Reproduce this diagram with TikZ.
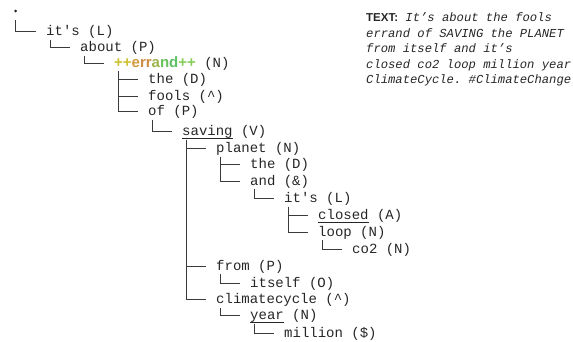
\documentclass[tikz,border=0pt]{standalone}
\usepackage{fontspec}
\setmainfont{Liberation Serif}
\setsansfont{Liberation Sans}
\setmonofont{Liberation Mono}
\usetikzlibrary{calc}

\definecolor{ink}{HTML}{262626}
\definecolor{wire}{HTML}{3A3A3A}
\definecolor{plusA}{HTML}{CDBF30}
\definecolor{letE}{HTML}{D29A3C}
\definecolor{letR}{HTML}{CC8A3E}
\definecolor{letA}{HTML}{9DB24C}
\definecolor{letN}{HTML}{66C15C}
\definecolor{letD}{HTML}{5CC066}
\definecolor{plusB}{HTML}{86CC58}

% underlined word with a rule just below the baseline
\newcommand\ulword[1]{\setbox0\hbox{#1}\rlap{\rule[-3pt]{\wd0}{0.9pt}}\box0\relax}

\begin{document}
\begin{tikzpicture}[x=1pt,y=-1pt,
  tok/.style={anchor=west, inner sep=0pt, text height=10pt, text depth=2pt,
    text=ink, font=\ttfamily\fontsize{14}{16}\selectfont},
  branch/.style={draw=wire, line width=1pt},
  summary/.style={anchor=north west, inner sep=0pt, align=left, text=ink,
    font=\ttfamily\itshape\fontsize{12.2}{15.5}\selectfont}]
\useasboundingbox (0,0) rectangle (573,341);

% root marker
\node[circle, fill=ink, inner sep=0pt, minimum size=3pt] (root) at (15.7,11) {};

% tree tokens: x = 46 + 34*(depth-1)
\node[tok] (n1)  at (46,31.7)   {it's (L)};
\node[tok] (n2)  at (80,47.7)   {about (P)};
\node[tok] (n3)  at (114,63.3)  {{\sffamily\bfseries\fontsize{15}{16}\selectfont
  \textcolor{plusA}{++}\textcolor{letE}{e}\textcolor{letR}{rr}\textcolor{letA}{a}\textcolor{letN}{n}\textcolor{letD}{d}\textcolor{plusB}{++}} (N)};
\node[tok] (n4)  at (148,79.3)  {the (D)};
\node[tok] (n5)  at (148,96)    {fools (\textasciicircum)};
\node[tok] (n6)  at (148,111.7) {of (P)};
\node[tok] (n7)  at (182,131.7) {\ulword{saving} (V)};
\node[tok] (n8)  at (216,148.5) {planet (N)};
\node[tok] (n9)  at (250,164.5) {the (D)};
\node[tok] (n10) at (250,181)   {and (\&)};
\node[tok] (n11) at (284,198.5) {it's (L)};
\node[tok] (n12) at (318,215.5) {\ulword{closed} (A)};
\node[tok] (n13) at (318,232.3) {loop (N)};
\node[tok] (n14) at (352,249.3) {co2 (N)};
\node[tok] (n15) at (216,266)   {from (P)};
\node[tok] (n16) at (250,283)   {itself (O)};
\node[tok] (n17) at (216,299.5) {climatecycle (\textasciicircum)};
\node[tok] (n18) at (250,315.7) {\ulword{year} (N)};
\node[tok] (n19) at (284,333)   {million (\$)};

% connectors
\draw[branch] ([yshift=-9pt]root.center) |- ([xshift=-10pt]n1.west);
\foreach \p/\c in {n1/n2, n2/n3, n3/n4, n3/n5, n3/n6, n6/n7, n7/n8, n8/n9,
  n8/n10, n10/n11, n11/n12, n11/n13, n13/n14, n7/n15, n15/n16, n7/n17,
  n17/n18, n18/n19}
  \draw[branch] ([xshift=4.2pt,yshift=-8pt]\p.west) |- ([xshift=-10pt]\c.west);

% sentence
\node[summary] (txt) at (366,12.5) {{\sffamily\bfseries\upshape\fontsize{11.5}{15.5}\selectfont TEXT:} It’s about the fools\\
errand of SAVING the PLANET\\
from itself and it’s\\
closed co2 loop million year\\
ClimateCycle. \#ClimateChange};
\end{tikzpicture}
\end{document}
